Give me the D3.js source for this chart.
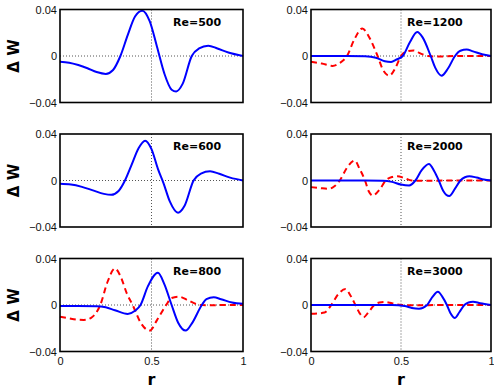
<!DOCTYPE html>
<html>
<head>
<meta charset="utf-8">
<script src="https://cdn.jsdelivr.net/npm/d3@7"></script>
<style>
  body { margin: 0; background: #fff; }
  svg { display: block; font-family: "DejaVu Sans", sans-serif; }
</style>
</head>
<body>
<svg></svg>
<script>
var width = 494;
var height = 390;

// Panel titles, in drawing order (left column top to bottom, then right column)
var reLabels = ['Re=500', 'Re=600', 'Re=800', 'Re=1200', 'Re=2000', 'Re=3000'];

var xTicks = [0, 0.5, 1];
var yTicks = [-0.04, 0, 0.04];

// [r, delta W]
var re500Solid = [[0, -0.005], [0.05, -0.0058], [0.1, -0.0078], [0.15, -0.0105], [0.2, -0.0138], [0.25, -0.0154],
  [0.29, -0.012], [0.33, 0], [0.37, 0.018], [0.41, 0.034], [0.45, 0.039], [0.49, 0.03], [0.53, 0.008],
  [0.57, -0.015], [0.61, -0.029], [0.635, -0.0305], [0.67, -0.024], [0.72, 0], [0.76, 0.0065], [0.81, 0.0089],
  [0.86, 0.0065], [0.92, 0.003], [1, 0]];

var re600Solid = [[0, -0.0029], [0.06, -0.0035], [0.12, -0.0055], [0.18, -0.0085], [0.24, -0.0115], [0.28, -0.0123],
  [0.32, -0.009], [0.355, 0], [0.39, 0.013], [0.43, 0.028], [0.465, 0.0343], [0.5, 0.027], [0.535, 0.01],
  [0.565, -0.002], [0.6, -0.018], [0.645, -0.0277], [0.68, -0.022], [0.73, 0], [0.77, 0.006], [0.82, 0.008],
  [0.87, 0.0058], [0.93, 0.0025], [1, 0]];

var re800Solid = [[0, -0.0009], [0.1, -0.0009], [0.2, -0.001], [0.25, -0.002], [0.3, -0.0045], [0.37, -0.0077],
  [0.41, -0.005], [0.44, 0], [0.48, 0.016], [0.535, 0.0277], [0.57, 0.018], [0.61, 0], [0.645, -0.015],
  [0.687, -0.022], [0.72, -0.016], [0.775, 0], [0.8, 0.005], [0.84, 0.0066], [0.88, 0.005], [0.94, 0.0022], [1, 0.001]];
var re800Dashed = [[0, -0.01], [0.05, -0.0115], [0.1, -0.0127], [0.13, -0.0129], [0.17, -0.011], [0.22, 0],
  [0.26, 0.02], [0.3, 0.0314], [0.33, 0.025], [0.365, 0.01], [0.4, -0.001], [0.44, -0.015], [0.49, -0.022],
  [0.53, -0.013], [0.58, 0], [0.61, 0.006], [0.65, 0.0071], [0.7, 0.004], [0.75, 0.0005], [0.8, -0.0003],
  [0.9, 0], [1, 0]];

var re1200Solid = [[0, 0], [0.2, 0], [0.3, -0.0003], [0.36, -0.0015], [0.41, -0.0045], [0.445, -0.0051],
  [0.475, -0.003], [0.51, 0], [0.55, 0.012], [0.59, 0.0206], [0.62, 0.016], [0.665, 0], [0.69, -0.01],
  [0.725, -0.0169], [0.76, -0.011], [0.8, 0], [0.83, 0.0045], [0.865, 0.0056], [0.9, 0.004], [0.95, 0.0015], [1, 0]];
var re1200Dashed = [[0, -0.005], [0.06, -0.0065], [0.12, -0.0085], [0.16, -0.006], [0.2, 0], [0.24, 0.014],
  [0.285, 0.0237], [0.32, 0.017], [0.37, 0], [0.4, -0.012], [0.435, -0.0169], [0.47, -0.01], [0.5, 0],
  [0.535, 0.004], [0.57, 0.0048], [0.61, 0.002], [0.65, 0], [0.7, -0.0005], [0.8, 0], [1, 0]];

var re2000Solid = [[0, 0], [0.3, 0], [0.4, -0.0002], [0.45, -0.0012], [0.5, -0.0035], [0.545, -0.0043],
  [0.58, 0], [0.615, 0.009], [0.655, 0.0143], [0.685, 0.008], [0.71, 0], [0.735, -0.009], [0.768, -0.0134],
  [0.8, -0.007], [0.83, 0], [0.855, 0.0028], [0.88, 0.0037], [0.92, 0.0025], [0.96, 0.0008], [1, 0]];
var re2000Dashed = [[0, -0.0057], [0.05, -0.0065], [0.1, -0.0071], [0.13, -0.005], [0.16, 0], [0.2, 0.011],
  [0.243, 0.0171], [0.27, 0.01], [0.3, 0], [0.32, -0.009], [0.343, -0.0129], [0.38, -0.008], [0.415, 0],
  [0.45, 0.003], [0.48, 0.0037], [0.52, 0.002], [0.56, 0], [0.65, -0.0003], [0.75, 0], [1, 0]];

var re3000Solid = [[0, 0], [0.45, 0], [0.52, -0.0008], [0.56, -0.0025], [0.6, -0.0032], [0.645, 0],
  [0.675, 0.007], [0.705, 0.0114], [0.73, 0.007], [0.755, 0], [0.775, -0.007], [0.8, -0.0111], [0.825, -0.006],
  [0.852, 0], [0.875, 0.0022], [0.9, 0.0029], [0.94, 0.0015], [1, 0]];
var re3000Dashed = [[0, -0.0075], [0.04, -0.0072], [0.075, -0.0065], [0.113, 0], [0.15, 0.009], [0.192, 0.0137],
  [0.22, 0.008], [0.247, 0], [0.27, -0.007], [0.292, -0.0105], [0.32, -0.006], [0.352, 0], [0.38, 0.0022],
  [0.41, 0.0026], [0.45, 0.0015], [0.5, 0], [0.6, -0.0003], [0.7, 0], [1, 0]];

// Layout of the 3x2 grid
var colLeft = [60, 311];
var colWidth = [183, 180];
var rowTop = [9.5, 134, 258.5];
var panelHeight = 93;

var panels = [
  { label: reLabels[0], col: 0, row: 0, solid: re500Solid, dashed: null },
  { label: reLabels[1], col: 0, row: 1, solid: re600Solid, dashed: null },
  { label: reLabels[2], col: 0, row: 2, solid: re800Solid, dashed: re800Dashed },
  { label: reLabels[3], col: 1, row: 0, solid: re1200Solid, dashed: re1200Dashed },
  { label: reLabels[4], col: 1, row: 1, solid: re2000Solid, dashed: re2000Dashed },
  { label: reLabels[5], col: 1, row: 2, solid: re3000Solid, dashed: re3000Dashed }
];

var svg = d3.select('svg')
    .attr('width', width)
    .attr('height', height);

panels.forEach(function(p) {
  var x0 = colLeft[p.col];
  var y0 = rowTop[p.row];
  var w = colWidth[p.col];

  var xScale = d3.scaleLinear().domain([0, 1]).range([0, w]);
  var yScale = d3.scaleLinear().domain([-0.04, 0.04]).range([panelHeight, 0]);

  var g = svg.append('g')
      .attr('transform', 'translate(' + x0 + ',' + y0 + ')');

  // dotted cross through r = 0.5 and dW = 0
  g.append('line')
      .attr('x1', xScale(0.5)).attr('x2', xScale(0.5))
      .attr('y1', 0).attr('y2', panelHeight)
      .attr('stroke', '#555').attr('stroke-width', 1)
      .attr('stroke-dasharray', '1,2');
  g.append('line')
      .attr('x1', 0).attr('x2', w)
      .attr('y1', yScale(0)).attr('y2', yScale(0))
      .attr('stroke', '#555').attr('stroke-width', 1)
      .attr('stroke-dasharray', '1,2');

  var line = d3.line()
      .x(d => xScale(d[0]))
      .y(d => yScale(d[1]))
      .curve(d3.curveMonotoneX);

  if (p.dashed) {
    g.append('path')
        .attr('d', line(p.dashed))
        .attr('fill', 'none')
        .attr('stroke', '#ff0000')
        .attr('stroke-width', 2)
        .attr('stroke-dasharray', '6,4');
  }

  g.append('path')
      .attr('d', line(p.solid))
      .attr('fill', 'none')
      .attr('stroke', '#0000ff')
      .attr('stroke-width', 2);

  // frame
  g.append('rect')
      .attr('width', w)
      .attr('height', panelHeight)
      .attr('fill', 'none')
      .attr('stroke', '#000')
      .attr('stroke-width', 1.6);

  // y axis labels
  var yAxis = d3.axisLeft(yScale)
      .tickValues(yTicks)
      .tickFormat(d => d === 0 ? '0' : d3.format('.2f')(d))
      .tickSize(0)
      .tickPadding(3);
  var ya = g.append('g').call(yAxis);
  ya.select('.domain').remove();
  ya.selectAll('text').style('font-size', '11px').attr('fill', '#111');

  // x axis labels only on bottom row
  if (p.row === 2) {
    var xAxis = d3.axisBottom(xScale)
        .tickValues(xTicks)
        .tickFormat(d3.format(''))
        .tickSize(0)
        .tickPadding(6);
    var xa = g.append('g')
        .attr('transform', 'translate(0,' + panelHeight + ')')
        .call(xAxis);
    xa.select('.domain').remove();
    xa.selectAll('text').style('font-size', '11px').attr('fill', '#111');

    g.append('text')
        .attr('x', xScale(0.5))
        .attr('y', panelHeight + 33)
        .style('text-anchor', 'middle')
        .style('font-size', '16px')
        .style('font-weight', 'bold')
        .text('r');
  }

  // delta W label on left column
  if (p.col === 0) {
    g.append('text')
        .attr('transform', 'translate(' + (-41) + ',' + (panelHeight / 2) + ') rotate(-90)')
        .style('text-anchor', 'middle')
        .style('font-size', '15px')
        .style('font-weight', 'bold')
        .text('\u0394 W');
  }

  // Re label
  g.append('text')
      .attr('x', p.col === 0 ? 113 : 96)
      .attr('y', 16)
      .style('font-size', '11px')
      .style('font-weight', 'bold')
      .text(p.label);
});
</script>
</body>
</html>
